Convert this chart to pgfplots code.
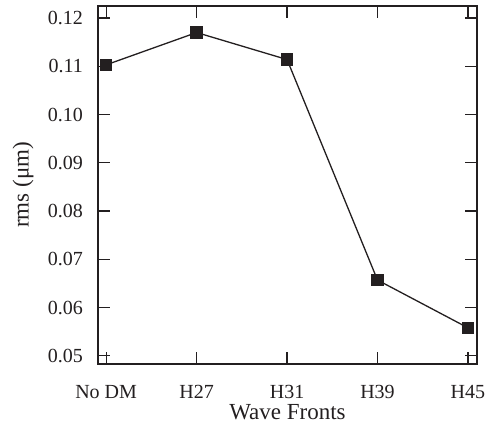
\documentclass[border=0pt]{standalone}
\usepackage{pgfplots}
\pgfplotsset{compat=1.18}
\usepackage{fontspec}
\setmainfont{Liberation Serif}
\definecolor{ink}{HTML}{231F20}
\begin{document}
\begin{tikzpicture}
\begin{axis}[
    scale only axis,
    width=379pt,
    height=358pt,
    xmin=-0.09, xmax=4.1,
    ymin=0.0483, ymax=0.1225,
    xtick={0,1,2,3,4},
    xticklabels={No DM, H27, H31, H39, H45},
    ytick={0.05,0.06,0.07,0.08,0.09,0.10,0.11,0.12},
    yticklabel style={/pgf/number format/fixed, /pgf/number format/fixed zerofill, /pgf/number format/precision=2},
    /pgf/number format/assume math mode=true,
    tick align=inside,
    tick pos=both,
    major tick length=12pt,
    axis line style={line width=1.4pt, color=ink},
    every tick/.style={line width=1.2pt, color=ink},
    tick label style={font=\fontsize{20}{22}\selectfont, color=ink, inner sep=0pt},
    label style={font=\fontsize{23}{25}\selectfont, color=ink, inner sep=0pt},
    xlabel={Wave Fronts},
    ylabel={rms (μm)},
    xticklabel style={anchor=center, yshift=-28pt},
    yticklabel style={anchor=east, xshift=-15pt},
    xlabel style={at={(axis description cs:0.5,0)}, anchor=center, yshift=-48pt},
    ylabel style={at={(axis description cs:0,0.5)}, anchor=center, yshift=75pt},
]
\addplot[color=ink, line width=1.3pt, mark=square*, mark size=5.5pt, mark options={fill=ink, solid}] coordinates {
    (0, 0.1103)
    (1, 0.1170)
    (2, 0.1114)
    (3, 0.0657)
    (4, 0.0558)
};
\coordinate (sw) at (rel axis cs:0,0);
\coordinate (ne) at (rel axis cs:1,1);
\end{axis}
\pgfresetboundingbox
\path ([shift={(-98pt,-64pt)}]sw) rectangle ([shift={(12pt,6pt)}]ne);
\end{tikzpicture}
\end{document}
